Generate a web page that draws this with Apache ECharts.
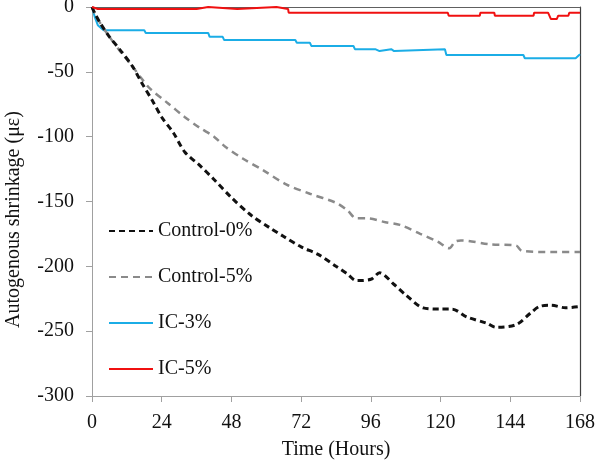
<!DOCTYPE html>
<html>
<head>
<meta charset="utf-8">
<script src="https://cdn.jsdelivr.net/npm/echarts@6/dist/echarts.min.js"></script>
<style>html,body{margin:0;padding:0;background:#fff}#c{width:596px;height:460px}</style>
</head>
<body>
<div id="c"></div>
<script>
var seriesNames = ['Control-0%', 'Control-5%', 'IC-3%', 'IC-5%'];
var xTicks = [0, 24, 48, 72, 96, 120, 144, 168];
var yTicks = [0, -50, -100, -150, -200, -250, -300];

var control0 = [[0,0],[1,-5],[3,-13],[6,-23],[10,-34],[14,-46],[17,-58],[21,-73],[24,-85],[28,-97],[32,-112],[37,-122],[42,-133],[48,-147],[55,-161],[61,-170],[66,-177],[72,-185],[78,-191],[84,-200],[88,-206],[91,-211],[96,-210],[99,-205],[104,-214],[108,-222],[114,-232],[120,-233],[124,-233],[129,-239],[136,-244],[139,-247],[146,-245],[151,-236],[154,-231],[158,-230],[163,-232],[168,-231]];
var control5 = [[0,0],[1,-5],[3,-13],[6,-23],[10,-35],[14,-46],[17,-55],[20,-63],[26,-74],[32,-85],[37,-93],[42,-100],[46,-108],[52,-117],[59,-126],[67,-137],[75,-144],[84,-151],[88,-157],[91,-163],[95,-163],[101,-166],[106,-168],[113,-175],[119,-181],[123,-186],[125,-181],[127,-180],[137,-183],[146,-184],[148,-188],[160,-189],[168,-189]];
var ic3 = [[0,0],[1,-8],[2,-14],[4,-18],[18,-18],[18.5,-20],[40,-20],[40.5,-23],[45,-23],[45.5,-25.5],[70,-25.5],[70.5,-27.5],[75,-27.5],[75.5,-30],[90,-30],[90.5,-32.5],[97.5,-32.5],[97.7,-34],[99,-34],[99.2,-32.5],[103,-32.5],[103.2,-34],[104,-34],[104.2,-32.5],[121.5,-32.5],[122,-37],[148.5,-37],[149,-39.5],[166.5,-39.5],[168,-36.5]];
var ic5 = [[0,0],[2,-1.5],[36,-1.5],[36.2,0],[40,0],[40.2,-1.5],[50,-1.5],[50.2,0],[63.5,0],[63.7,-1.5],[67.5,-1.5],[67.7,-4.4],[122.5,-4.4],[122.8,-6.7],[133.5,-6.7],[133.7,-4.4],[138.5,-4.4],[138.7,-6.7],[152,-6.7],[152.2,-4.4],[157,-4.4],[158,-9.3],[160,-9.3],[160.5,-6.7],[164,-6.7],[164.3,-4.4],[168,-4.4]];

var font = 'Liberation Serif';
var chart = echarts.init(document.getElementById('c'));
chart.setOption({
  animation: false,
  backgroundColor: '#fff',
  grid: { left: 92, right: 16, top: 7, bottom: 64, containLabel: false, outerBoundsMode: 'none' },
  legend: {
    orient: 'vertical', left: 108, top: 221, padding: 0,
    itemWidth: 44, itemHeight: 14, itemGap: 26,
    itemStyle: { opacity: 0 },
    textStyle: { fontFamily: font, fontSize: 20, color: '#111' },
    data: seriesNames
  },
  xAxis: [{
    type: 'value', min: 0, max: 168, interval: 24,
    name: 'Time (Hours)', nameLocation: 'middle', nameGap: 44,
    nameTextStyle: { fontFamily: font, fontSize: 20, color: '#111' },
    axisLine: { onZero: false, lineStyle: { color: '#a0a0a0', width: 1 } },
    axisTick: { show: true, length: 6, lineStyle: { color: '#a0a0a0' } },
    axisLabel: { fontFamily: font, fontSize: 20, color: '#111', margin: 17,
      formatter: function (v) { return xTicks.indexOf(v) >= 0 ? String(v) : ''; } },
    splitLine: { show: false }
  }, {
    type: 'value', min: 0, max: 168, position: 'top',
    axisLine: { show: true, onZero: false, lineStyle: { color: '#606060', width: 1 } },
    axisTick: { show: false }, axisLabel: { show: false }, splitLine: { show: false }
  }],
  yAxis: [{
    type: 'value', min: -300, max: 0, interval: 50,
    name: 'Autogenous shrinkage (με)', nameLocation: 'middle', nameGap: 68,
    nameTextStyle: { fontFamily: font, fontSize: 20, color: '#111', padding: [0, 36, 0, 0] },
    axisLine: { show: true, onZero: false, lineStyle: { color: '#a0a0a0', width: 1 } },
    axisTick: { show: true, length: 6, lineStyle: { color: '#a0a0a0' } },
    axisLabel: { fontFamily: font, fontSize: 20, color: '#111', margin: 18,
      formatter: function (v) { return yTicks.indexOf(v) >= 0 ? String(v) : ''; } },
    splitLine: { show: false }
  }, {
    type: 'value', min: -300, max: 0, position: 'right',
    axisLine: { show: true, onZero: false, lineStyle: { color: '#404040', width: 1.2 } },
    axisTick: { show: false }, axisLabel: { show: false }, splitLine: { show: false }
  }],
  series: [
    { name: seriesNames[0], type: 'line', data: control0, symbol: 'none', smooth: 0.3,
      lineStyle: { color: '#111', width: 3, type: [6, 4] }, itemStyle: { color: '#111' }, z: 4 },
    { name: seriesNames[1], type: 'line', data: control5, symbol: 'none', smooth: 0.3,
      lineStyle: { color: '#8a8a8a', width: 2.5, type: [7, 5] }, itemStyle: { color: '#8a8a8a' }, z: 3 },
    { name: seriesNames[2], type: 'line', data: ic3, symbol: 'none',
      lineStyle: { color: '#1badE6', width: 2 }, itemStyle: { color: '#1badE6' }, z: 2 },
    { name: seriesNames[3], type: 'line', data: ic5, symbol: 'none',
      lineStyle: { color: '#f01010', width: 2 }, itemStyle: { color: '#f01010' }, z: 5 }
  ]
});
</script>
</body>
</html>
